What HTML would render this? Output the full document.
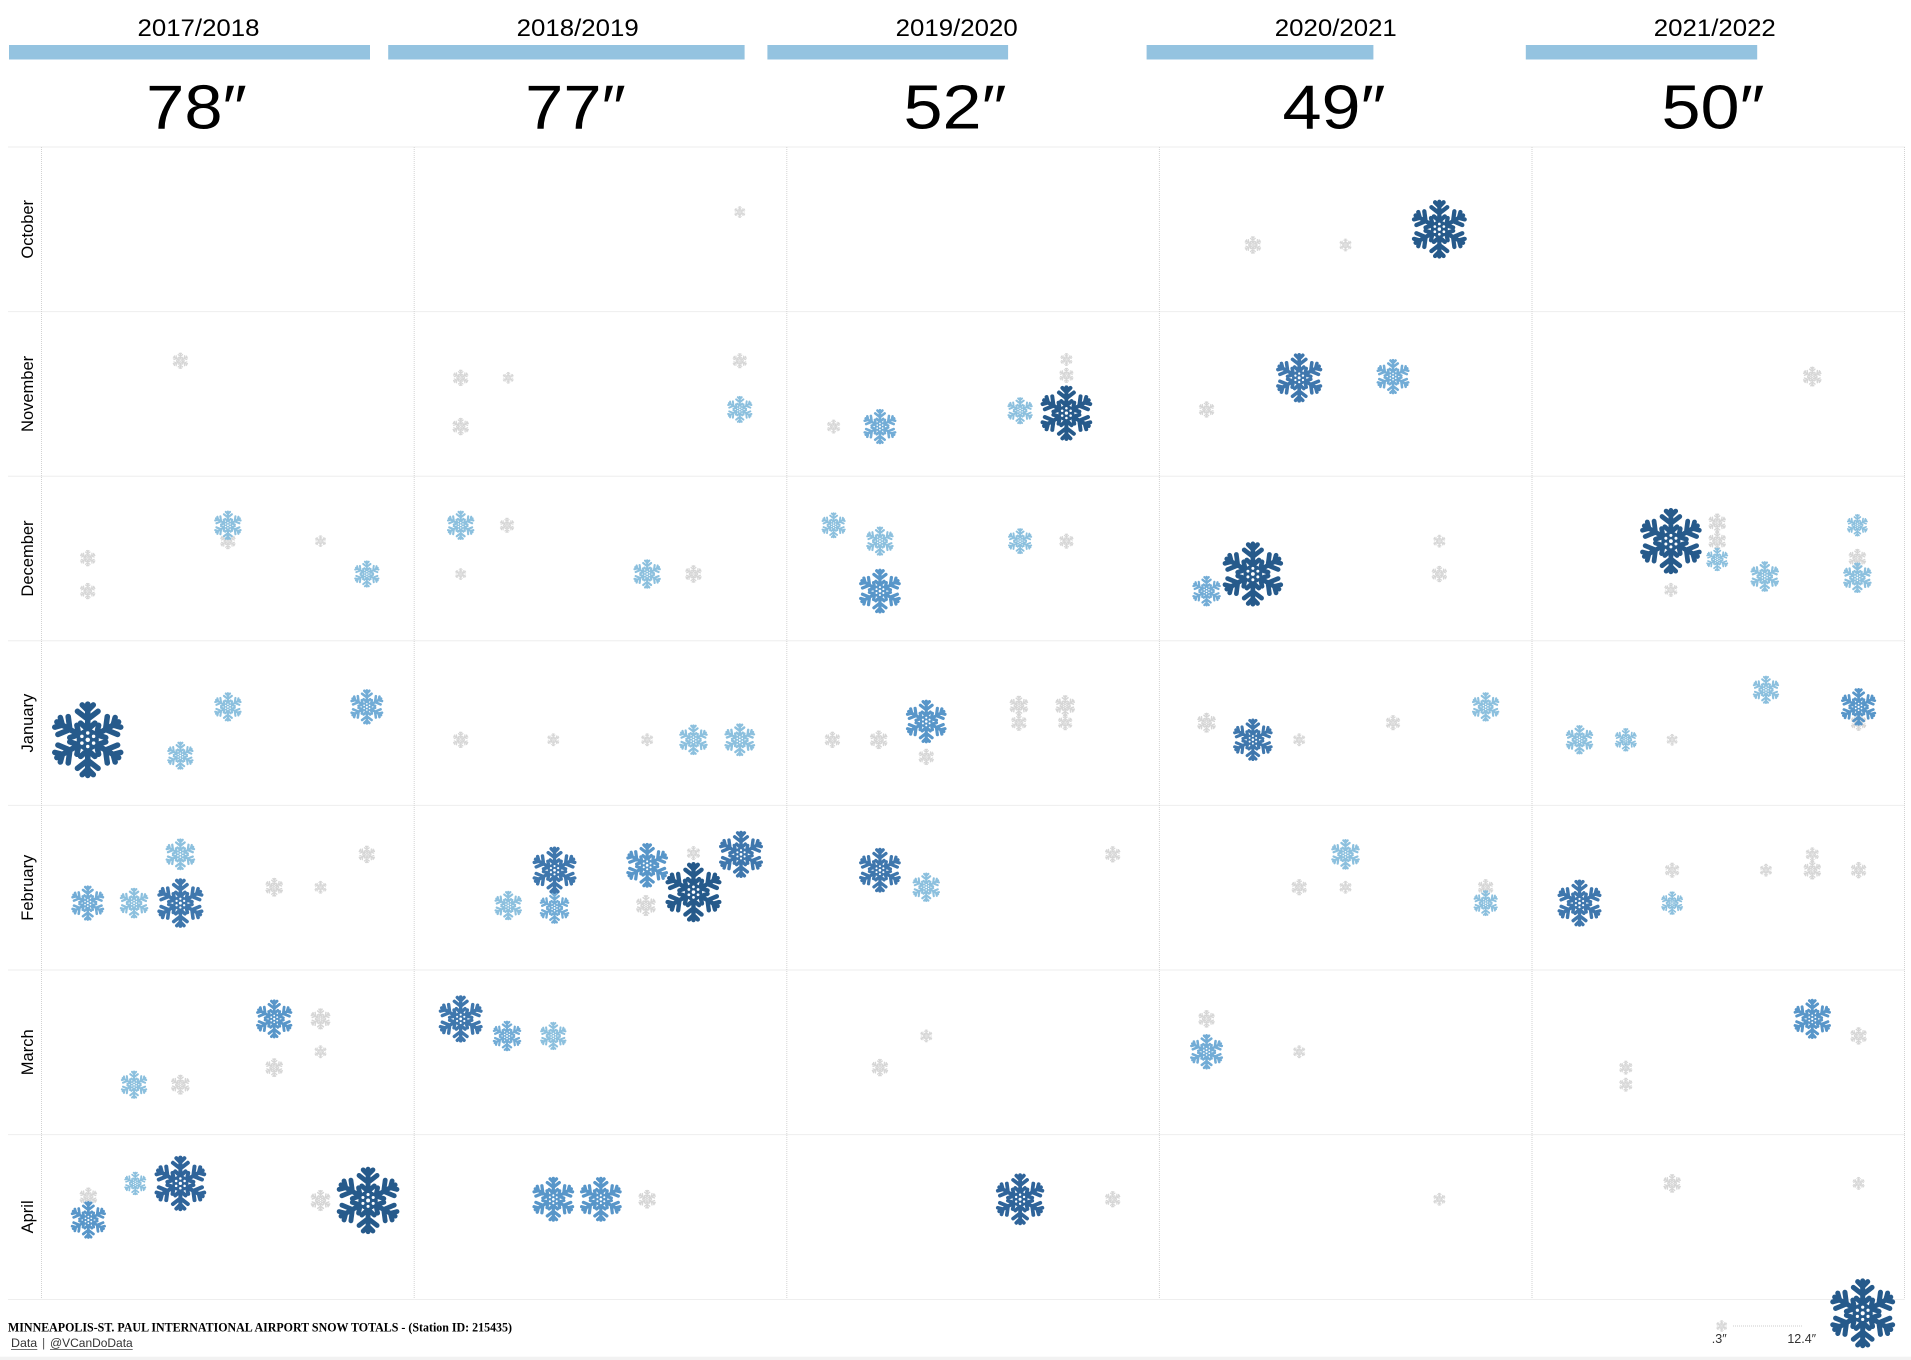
<!DOCTYPE html>
<html><head><meta charset="utf-8">
<style>
html,body{margin:0;padding:0;background:#fff;}
svg{display:block;}
.g{color:#d6d6d6}
.l{color:#8cc0de}
.l2{color:#72acd6}
.m1{color:#5896c9}
.m2{color:#3f77ad}
.d2{color:#2f649a}
.d{color:#265a8b}
text{font-family:"Liberation Sans",sans-serif;fill:#000;}
</style></head>
<body>
<svg width="1911" height="1360" viewBox="0 0 1911 1360" xmlns="http://www.w3.org/2000/svg">
<defs>
<g id="arm"><path d="M0 0V-45M0-13L-9-21M0-13L9-21M0-26L-13-36M0-26L13-36M0-37L-7-44M0-37L7-44"/></g>
<g id="sf">
 <g stroke="currentColor" stroke-width="7" stroke-linecap="round" stroke-linejoin="round" fill="none">
  <use href="#arm"/>
  <use href="#arm" transform="rotate(60)"/>
  <use href="#arm" transform="rotate(120)"/>
  <use href="#arm" transform="rotate(180)"/>
  <use href="#arm" transform="rotate(240)"/>
  <use href="#arm" transform="rotate(300)"/>
 </g>
 <circle r="14" fill="currentColor"/>
 <g fill="#fff">
  <circle r="2.8"/>
  <circle cx="0" cy="-8.5" r="2.2"/><circle cx="7.4" cy="-4.25" r="2.2"/><circle cx="7.4" cy="4.25" r="2.2"/>
  <circle cx="0" cy="8.5" r="2.2"/><circle cx="-7.4" cy="4.25" r="2.2"/><circle cx="-7.4" cy="-4.25" r="2.2"/>
 </g>
</g>
</defs>
<rect width="1911" height="1360" fill="#fff"/>

<g font-size="24.5">
<text x="198.5" y="36" text-anchor="middle" textLength="122" lengthAdjust="spacingAndGlyphs">2017/2018</text>
<text x="577.7" y="36" text-anchor="middle" textLength="122" lengthAdjust="spacingAndGlyphs">2018/2019</text>
<text x="956.7" y="36" text-anchor="middle" textLength="122" lengthAdjust="spacingAndGlyphs">2019/2020</text>
<text x="1335.8" y="36" text-anchor="middle" textLength="122" lengthAdjust="spacingAndGlyphs">2020/2021</text>
<text x="1714.8" y="36" text-anchor="middle" textLength="122" lengthAdjust="spacingAndGlyphs">2021/2022</text>
</g>
<g fill="#94c3e0">
<rect x="9" y="45" width="361" height="14.5"/>
<rect x="388.2" y="45" width="356.4" height="14.5"/>
<rect x="767.4" y="45" width="240.7" height="14.5"/>
<rect x="1146.6" y="45" width="226.8" height="14.5"/>
<rect x="1525.8" y="45" width="231.4" height="14.5"/>
</g>
<g font-size="62">
<text x="196.5" y="128.3" text-anchor="middle" textLength="100.7" lengthAdjust="spacingAndGlyphs">78″</text>
<text x="575.5" y="128.3" text-anchor="middle" textLength="100.7" lengthAdjust="spacingAndGlyphs">77″</text>
<text x="955" y="128.3" text-anchor="middle" textLength="103" lengthAdjust="spacingAndGlyphs">52″</text>
<text x="1334" y="128.3" text-anchor="middle" textLength="103" lengthAdjust="spacingAndGlyphs">49″</text>
<text x="1713" y="128.3" text-anchor="middle" textLength="103" lengthAdjust="spacingAndGlyphs">50″</text>
</g>

<g stroke="#eeeeee" stroke-width="1">
<line x1="8" x2="1905" y1="147" y2="147"/>
<line x1="8" x2="1905" y1="311.6" y2="311.6"/>
<line x1="8" x2="1905" y1="476.2" y2="476.2"/>
<line x1="8" x2="1905" y1="640.8" y2="640.8"/>
<line x1="8" x2="1905" y1="805.4" y2="805.4"/>
<line x1="8" x2="1905" y1="970" y2="970"/>
<line x1="8" x2="1905" y1="1134.6" y2="1134.6"/>
<line x1="8" x2="1905" y1="1299.5" y2="1299.5"/>
</g>
<g stroke="#d2d2d2" stroke-width="1" stroke-dasharray="1 1">
<line x1="41.5" x2="41.5" y1="147" y2="1299"/>
<line x1="414.2" x2="414.2" y1="147" y2="1299"/>
<line x1="786.8" x2="786.8" y1="147" y2="1299"/>
<line x1="1159.4" x2="1159.4" y1="147" y2="1299"/>
<line x1="1532" x2="1532" y1="147" y2="1299"/>
<line x1="1904.5" x2="1904.5" y1="147" y2="1299"/>
</g>

<g font-size="16.5" text-anchor="middle">
<text transform="translate(33 229.3) rotate(-90)">October</text>
<text transform="translate(33 393.9) rotate(-90)">November</text>
<text transform="translate(33 558.5) rotate(-90)">December</text>
<text transform="translate(33 723.1) rotate(-90)">January</text>
<text transform="translate(33 887.7) rotate(-90)">February</text>
<text transform="translate(33 1052.3) rotate(-90)">March</text>
<text transform="translate(33 1216.9) rotate(-90)">April</text>
</g>

<g transform="scale(1.21875)">
<g class="g">
<use href="#sf" transform="translate(148 296) scale(.14)"/>
<use href="#sf" transform="translate(72 458) scale(.14)"/>
<use href="#sf" transform="translate(72 485) scale(.14)"/>
<use href="#sf" transform="translate(187 444) scale(.14)"/>
<use href="#sf" transform="translate(263 444) scale(.10)"/>
<use href="#sf" transform="translate(225 728) scale(.16)"/>
<use href="#sf" transform="translate(263 728) scale(.11)"/>
<use href="#sf" transform="translate(301 701) scale(.15)"/>
<use href="#sf" transform="translate(148 890) scale(.17)"/>
<use href="#sf" transform="translate(263 836) scale(.18)"/>
<use href="#sf" transform="translate(225 876) scale(.16)"/>
<use href="#sf" transform="translate(263 863) scale(.11)"/>
<use href="#sf" transform="translate(72.5 982) scale(.16)"/>
<use href="#sf" transform="translate(263 985) scale(.18)"/>
<use href="#sf" transform="translate(607 174) scale(.10)"/>
<use href="#sf" transform="translate(378 310) scale(.14)"/>
<use href="#sf" transform="translate(417 310) scale(.10)"/>
<use href="#sf" transform="translate(378 350) scale(.15)"/>
<use href="#sf" transform="translate(607 296) scale(.13)"/>
<use href="#sf" transform="translate(416 431) scale(.13)"/>
<use href="#sf" transform="translate(378 471) scale(.10)"/>
<use href="#sf" transform="translate(569 471) scale(.15)"/>
<use href="#sf" transform="translate(378 607) scale(.14)"/>
<use href="#sf" transform="translate(454 607) scale(.11)"/>
<use href="#sf" transform="translate(531 607) scale(.11)"/>
<use href="#sf" transform="translate(530 743) scale(.18)"/>
<use href="#sf" transform="translate(569 700) scale(.12)"/>
<use href="#sf" transform="translate(531 984) scale(.16)"/>
<use href="#sf" transform="translate(875 295) scale(.11)"/>
<use href="#sf" transform="translate(875 308) scale(.13)"/>
<use href="#sf" transform="translate(684 350) scale(.12)"/>
<use href="#sf" transform="translate(875 444) scale(.13)"/>
<use href="#sf" transform="translate(683 607) scale(.14)"/>
<use href="#sf" transform="translate(721 607) scale(.16)"/>
<use href="#sf" transform="translate(760 621) scale(.14)"/>
<use href="#sf" transform="translate(836 579) scale(.17)"/>
<use href="#sf" transform="translate(836 593) scale(.14)"/>
<use href="#sf" transform="translate(874 579) scale(.18)"/>
<use href="#sf" transform="translate(874 593) scale(.13)"/>
<use href="#sf" transform="translate(913 701) scale(.14)"/>
<use href="#sf" transform="translate(760 850) scale(.11)"/>
<use href="#sf" transform="translate(722 876) scale(.15)"/>
<use href="#sf" transform="translate(913 984) scale(.14)"/>
<use href="#sf" transform="translate(1028 201) scale(.15)"/>
<use href="#sf" transform="translate(1104 201) scale(.11)"/>
<use href="#sf" transform="translate(990 336) scale(.14)"/>
<use href="#sf" transform="translate(1181 444) scale(.11)"/>
<use href="#sf" transform="translate(1181 471) scale(.14)"/>
<use href="#sf" transform="translate(990 593) scale(.17)"/>
<use href="#sf" transform="translate(1066 607) scale(.11)"/>
<use href="#sf" transform="translate(1143 593) scale(.13)"/>
<use href="#sf" transform="translate(1104 728) scale(.11)"/>
<use href="#sf" transform="translate(1066 728) scale(.14)"/>
<use href="#sf" transform="translate(1219 728) scale(.14)"/>
<use href="#sf" transform="translate(990 836) scale(.15)"/>
<use href="#sf" transform="translate(1066 863) scale(.11)"/>
<use href="#sf" transform="translate(1181 984) scale(.11)"/>
<use href="#sf" transform="translate(1487 309) scale(.17)"/>
<use href="#sf" transform="translate(1409 429) scale(.16)"/>
<use href="#sf" transform="translate(1409 444) scale(.16)"/>
<use href="#sf" transform="translate(1371 484) scale(.12)"/>
<use href="#sf" transform="translate(1524 458) scale(.16)"/>
<use href="#sf" transform="translate(1372 607) scale(.10)"/>
<use href="#sf" transform="translate(1525 593) scale(.14)"/>
<use href="#sf" transform="translate(1372 714) scale(.13)"/>
<use href="#sf" transform="translate(1449 714) scale(.11)"/>
<use href="#sf" transform="translate(1487 701) scale(.12)"/>
<use href="#sf" transform="translate(1487 714) scale(.16)"/>
<use href="#sf" transform="translate(1525 714) scale(.14)"/>
<use href="#sf" transform="translate(1525 850) scale(.15)"/>
<use href="#sf" transform="translate(1334 876) scale(.12)"/>
<use href="#sf" transform="translate(1334 890) scale(.12)"/>
<use href="#sf" transform="translate(1372 971) scale(.16)"/>
<use href="#sf" transform="translate(1525 971) scale(.11)"/>
</g>
<g class="l">
<use href="#sf" transform="translate(187 431) scale(.25)"/>
<use href="#sf" transform="translate(301 471) scale(.23)"/>
<use href="#sf" transform="translate(148 620) scale(.24)"/>
<use href="#sf" transform="translate(187 580) scale(.25)"/>
<use href="#sf" transform="translate(110 741) scale(.26)"/>
<use href="#sf" transform="translate(148 701) scale(.27)"/>
<use href="#sf" transform="translate(110 890) scale(.24)"/>
<use href="#sf" transform="translate(111 971) scale(.20)"/>
<use href="#sf" transform="translate(607 336) scale(.23)"/>
<use href="#sf" transform="translate(378 431) scale(.25)"/>
<use href="#sf" transform="translate(531 471) scale(.25)"/>
<use href="#sf" transform="translate(569 607) scale(.26)"/>
<use href="#sf" transform="translate(607 607) scale(.28)"/>
<use href="#sf" transform="translate(417 743) scale(.25)"/>
<use href="#sf" transform="translate(454 850) scale(.24)"/>
<use href="#sf" transform="translate(837 337) scale(.23)"/>
<use href="#sf" transform="translate(684 431) scale(.22)"/>
<use href="#sf" transform="translate(722 444) scale(.25)"/>
<use href="#sf" transform="translate(837 444) scale(.22)"/>
<use href="#sf" transform="translate(760 728) scale(.25)"/>
<use href="#sf" transform="translate(1219 580) scale(.25)"/>
<use href="#sf" transform="translate(1104 701) scale(.26)"/>
<use href="#sf" transform="translate(1219 741) scale(.22)"/>
<use href="#sf" transform="translate(1409 459) scale(.20)"/>
<use href="#sf" transform="translate(1448 473) scale(.26)"/>
<use href="#sf" transform="translate(1524 431) scale(.19)"/>
<use href="#sf" transform="translate(1524 474) scale(.26)"/>
<use href="#sf" transform="translate(1296 607) scale(.25)"/>
<use href="#sf" transform="translate(1334 607) scale(.20)"/>
<use href="#sf" transform="translate(1449 566) scale(.24)"/>
<use href="#sf" transform="translate(1372 741) scale(.20)"/>
</g>
<g class="l2">
<use href="#sf" transform="translate(301 580) scale(.30)"/>
<use href="#sf" transform="translate(72 741) scale(.30)"/>
<use href="#sf" transform="translate(722 350) scale(.30)"/>
<use href="#sf" transform="translate(416 850) scale(.26)"/>
<use href="#sf" transform="translate(455 745) scale(.27)"/>
<use href="#sf" transform="translate(1143 309) scale(.30)"/>
<use href="#sf" transform="translate(990 485) scale(.26)"/>
<use href="#sf" transform="translate(990 863) scale(.30)"/>
</g>
<g class="m1">
<use href="#sf" transform="translate(225 836) scale(.33)"/>
<use href="#sf" transform="translate(72.5 1001) scale(.32)"/>
<use href="#sf" transform="translate(454 984) scale(.38)"/>
<use href="#sf" transform="translate(493 984) scale(.38)"/>
<use href="#sf" transform="translate(531 710) scale(.38)"/>
<use href="#sf" transform="translate(722 485) scale(.38)"/>
<use href="#sf" transform="translate(760 592) scale(.37)"/>
<use href="#sf" transform="translate(1487 836) scale(.34)"/>
<use href="#sf" transform="translate(1525 580) scale(.32)"/>
</g>
<g class="m2">
<use href="#sf" transform="translate(148 741) scale(.42)"/>
<use href="#sf" transform="translate(455 714) scale(.40)"/>
<use href="#sf" transform="translate(608 701) scale(.40)"/>
<use href="#sf" transform="translate(378 836) scale(.40)"/>
<use href="#sf" transform="translate(722 714) scale(.38)"/>
<use href="#sf" transform="translate(1066 310) scale(.42)"/>
<use href="#sf" transform="translate(1028 607) scale(.36)"/>
<use href="#sf" transform="translate(1296 741) scale(.40)"/>
</g>
<g class="d2">
<use href="#sf" transform="translate(148 971) scale(.47)"/>
<use href="#sf" transform="translate(837 984) scale(.44)"/>
</g>
<g class="d">
<use href="#sf" transform="translate(72 607) scale(.65)"/>
<use href="#sf" transform="translate(302 985) scale(.57)"/>
<use href="#sf" transform="translate(569 732) scale(.51)"/>
<use href="#sf" transform="translate(875 339) scale(.47)"/>
<use href="#sf" transform="translate(1181 188) scale(.50)"/>
<use href="#sf" transform="translate(1028 471) scale(.55)"/>
<use href="#sf" transform="translate(1371 444) scale(.56)"/>
</g>
</g>

<text x="8" y="1331.5" font-size="12.7" font-weight="bold" style="font-family:'Liberation Serif',serif" textLength="504" lengthAdjust="spacingAndGlyphs">MINNEAPOLIS-ST. PAUL INTERNATIONAL AIRPORT SNOW TOTALS - (Station ID: 215435)</text>
<g font-size="12.4">
<text x="11" y="1347" style="fill:#333">Data</text>
<text x="42" y="1347" style="fill:#555">|</text>
<text x="50" y="1347" style="fill:#333" textLength="82.7" lengthAdjust="spacingAndGlyphs">@VCanDoData</text>
</g>
<g stroke="#444" stroke-width="0.8">
<line x1="11" x2="37.3" y1="1349.5" y2="1349.5"/>
<line x1="50" x2="132.7" y1="1349.5" y2="1349.5"/>
</g>
<rect x="0" y="1356.7" width="1911" height="3.3" fill="#f2f2f2"/>

<line x1="1733" x2="1803" y1="1326" y2="1326" stroke="#cccccc" stroke-width="1" stroke-dasharray="1 1"/>
<use href="#sf" class="g" transform="translate(1721.7 1326) scale(.12)"/>
<use href="#sf" class="d" transform="translate(1862.7 1313.3) scale(.72)"/>
<g font-size="12.5">
<text x="1719.2" y="1343" text-anchor="middle" style="fill:#333">.3″</text>
<text x="1801.7" y="1343" text-anchor="middle" style="fill:#333">12.4″</text>
</g>
</svg>
</body></html>
